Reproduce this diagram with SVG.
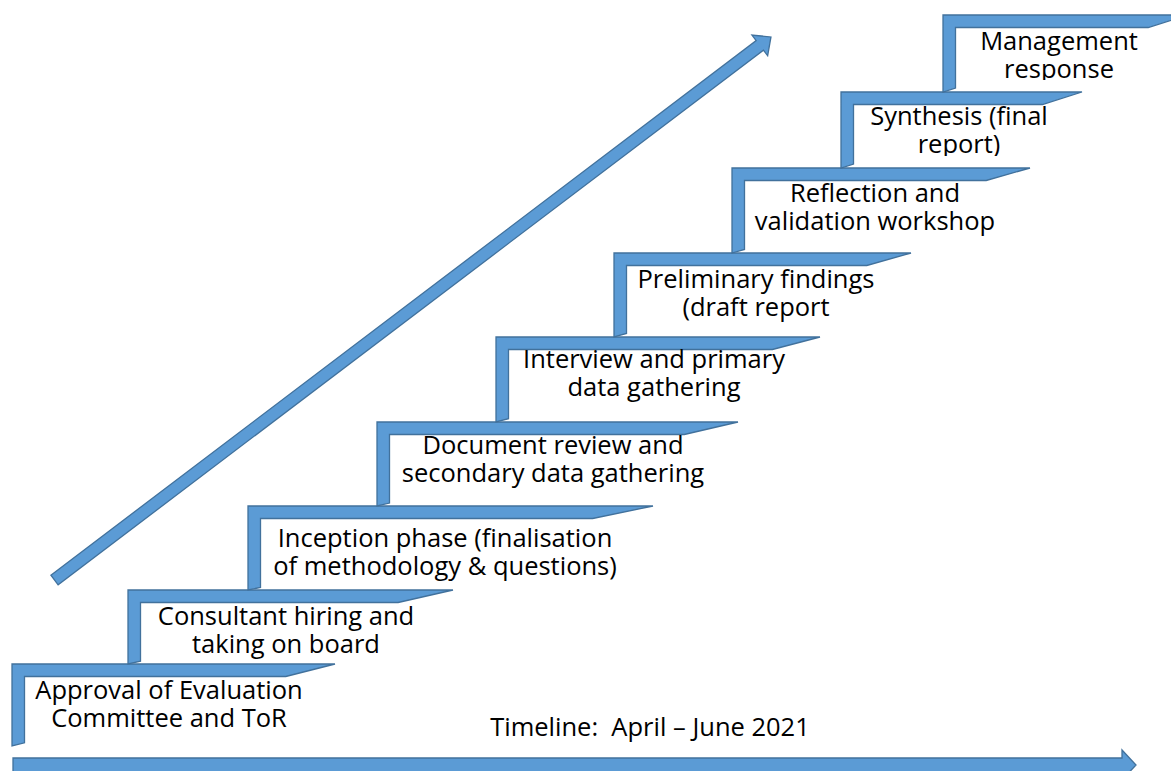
<svg xmlns="http://www.w3.org/2000/svg" width="1171" height="771" viewBox="0 0 1171 771">
  <style>
    .step { fill: #5B9BD5; stroke: #41719C; stroke-width: 1.3; stroke-linejoin: miter; }
    .arrow { fill: #5B9BD5; stroke: #41719C; stroke-width: 1.3; stroke-linejoin: miter; }
    .lbl { font-family: "Open Sans", "Liberation Sans", sans-serif; font-size: 25.5px; fill: #000; text-anchor: middle; }
    .pre { white-space: pre; }
  </style>
  <defs>
    <clipPath id="clip-mgmt"><rect x="940" y="0" width="231" height="80"/></clipPath>
    <clipPath id="clip-synth"><rect x="840" y="90" width="260" height="66"/></clipPath>
  </defs>
  <rect width="1171" height="771" fill="#ffffff"/>

  <!-- block arrows: rising progress arrow and timeline arrow -->
  <g id="timeline-arrows">
    <polygon class="arrow" transform="translate(54.5,580) rotate(-37.16)"
             points="0,-6 885,-6 885,-13 899,0 885,13 885,6 0,6"/>
    <polygon class="arrow" points="13,758 1122,758 1122,750 1136,765 1122,780 1122,772 13,772"/>
  </g>

  <!-- half-frame steps, bottom to top -->
  <g id="step-approval">
    <polygon class="step" points="12,664 335,664 285.8,676.5 24.5,676.5 24.5,742.8 12,746"/>
    <text class="lbl" x="169" y="699">Approval of Evaluation</text>
    <text class="lbl" x="169" y="727">Committee and ToR</text>
  </g>
  <g id="step-consultant">
    <polygon class="step" points="128,590 453,590 398.1,602.5 140.5,602.5 140.5,661.2 128,664"/>
    <text class="lbl" x="286" y="625">Consultant hiring and</text>
    <text class="lbl" x="286" y="653">taking on board</text>
  </g>
  <g id="step-inception">
    <polygon class="step" points="248,506 653,506 592.7,518.5 260.5,518.5 260.5,587.4 248,590"/>
    <text class="lbl" x="445" y="547">Inception phase (finalisation</text>
    <text class="lbl" x="445" y="575">of methodology &amp; questions)</text>
  </g>
  <g id="step-document-review">
    <polygon class="step" points="377,422 738,422 684.3,434.5 389.5,434.5 389.5,503.1 377,506"/>
    <text class="lbl" x="553" y="454">Document review and</text>
    <text class="lbl" x="553" y="482">secondary data gathering</text>
  </g>
  <g id="step-interview">
    <polygon class="step" points="496,337 820,337 772.4,349.5 508.5,349.5 508.5,418.7 496,422"/>
    <text class="lbl" x="654" y="368">Interview and primary</text>
    <text class="lbl" x="654" y="396">data gathering</text>
  </g>
  <g id="step-preliminary">
    <polygon class="step" points="614,253 911,253 866.8,265.5 626.5,265.5 626.5,333.5 614,337"/>
    <text class="lbl" x="756" y="288">Preliminary findings</text>
    <text class="lbl" x="756" y="316">(draft report</text>
  </g>
  <g id="step-reflection">
    <polygon class="step" points="732,168 1030,168 986.2,180.5 744.5,180.5 744.5,249.4 732,253"/>
    <text class="lbl" x="875" y="202">Reflection and</text>
    <text class="lbl" x="875" y="230">validation workshop</text>
  </g>
  <g id="step-synthesis">
    <polygon class="step" points="841,92 1082,92 1042.4,104.5 853.5,104.5 853.5,164.1 841,168"/>
    <g clip-path="url(#clip-synth)">
      <text class="lbl" x="959" y="125">Synthesis (final</text>
      <text class="lbl" x="959" y="153">report)</text>
    </g>
  </g>
  <g id="step-management">
    <polygon class="step" points="943,15 1188,15 1148.2,27.5 955.5,27.5 955.5,88.1 943,92"/>
    <g clip-path="url(#clip-mgmt)">
      <text class="lbl" x="1059" y="50">Management</text>
      <text class="lbl" x="1059" y="78">response</text>
    </g>
  </g>

  <g id="timeline-label">
    <text class="lbl pre" x="650" y="736" xml:space="preserve">Timeline:  April – June 2021</text>
  </g>
</svg>
